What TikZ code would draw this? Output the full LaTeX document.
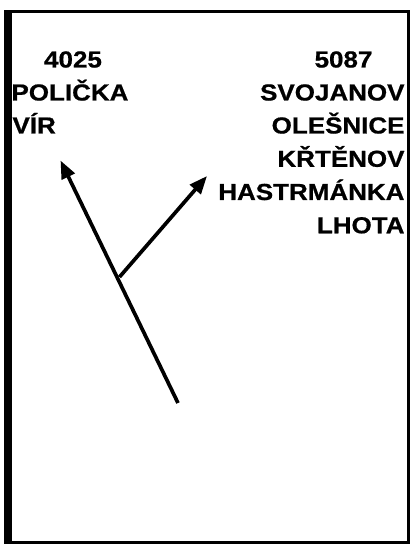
\documentclass[tikz,border=0pt]{standalone}
\usepackage{fontspec}
\usepackage{graphicx}
\setmainfont{Liberation Sans}
\newfontfamily\lbfont{Liberation Sans Bold}[FakeBold=0.7]
\usetikzlibrary{arrows.meta}
\newcommand{\sx}[1]{\scalebox{1.12}[1]{#1}}
\begin{document}
\begin{tikzpicture}[x=1pt,y=-1pt,
  lbl/.style={font=\fontsize{23.2}{23.2}\selectfont\lbfont, inner sep=0pt, outer sep=0pt},
  arr/.style={line width=3.7pt, -{Triangle[length=18pt,width=14pt]}},
  frame/.style={line width=3pt}]
\useasboundingbox (0,0) rectangle (410,545);
\fill[white] (0,0) rectangle (410,545);
% frame
\fill[black] (4,10) rectangle (12,544);
\draw[frame] (4,11.5) -- (408.5,11.5) -- (408.5,542.5) -- (4,542.5);
% labels
\node[lbl, anchor=base] (n4025) at (73,67.5) {\sx{4025}};
\node[lbl, anchor=base west] (policka) at (11.5,100.5) {\sx{POLIČKA}};
\node[lbl, anchor=base west] (vir) at (12.5,133.5) {\sx{VÍR}};
\node[lbl, anchor=base] (n5087) at (343.5,67.5) {\sx{5087}};
\node[lbl, anchor=base east] (svojanov) at (404.5,100.5) {\sx{SVOJANOV}};
\node[lbl, anchor=base east] (olesnice) at (404.5,133.5) {\sx{OLEŠNICE}};
\node[lbl, anchor=base east] (krtenov) at (404.5,166.8) {\sx{KŘTĚNOV}};
\node[lbl, anchor=base east] (hastrmanka) at (404.5,200) {\sx{HASTRMÁNKA}};
\node[lbl, anchor=base east] (lhota) at (404.5,233.3) {\sx{LHOTA}};
% arrows
\coordinate (start) at (178,403);
\coordinate (tipA) at (60.5,160.5);
\coordinate (fork) at (119.5,277);
\coordinate (tipB) at (207,176);
\draw[arr] (start) -- (tipA);
\draw[arr] (fork) -- (tipB);
\end{tikzpicture}
\end{document}
